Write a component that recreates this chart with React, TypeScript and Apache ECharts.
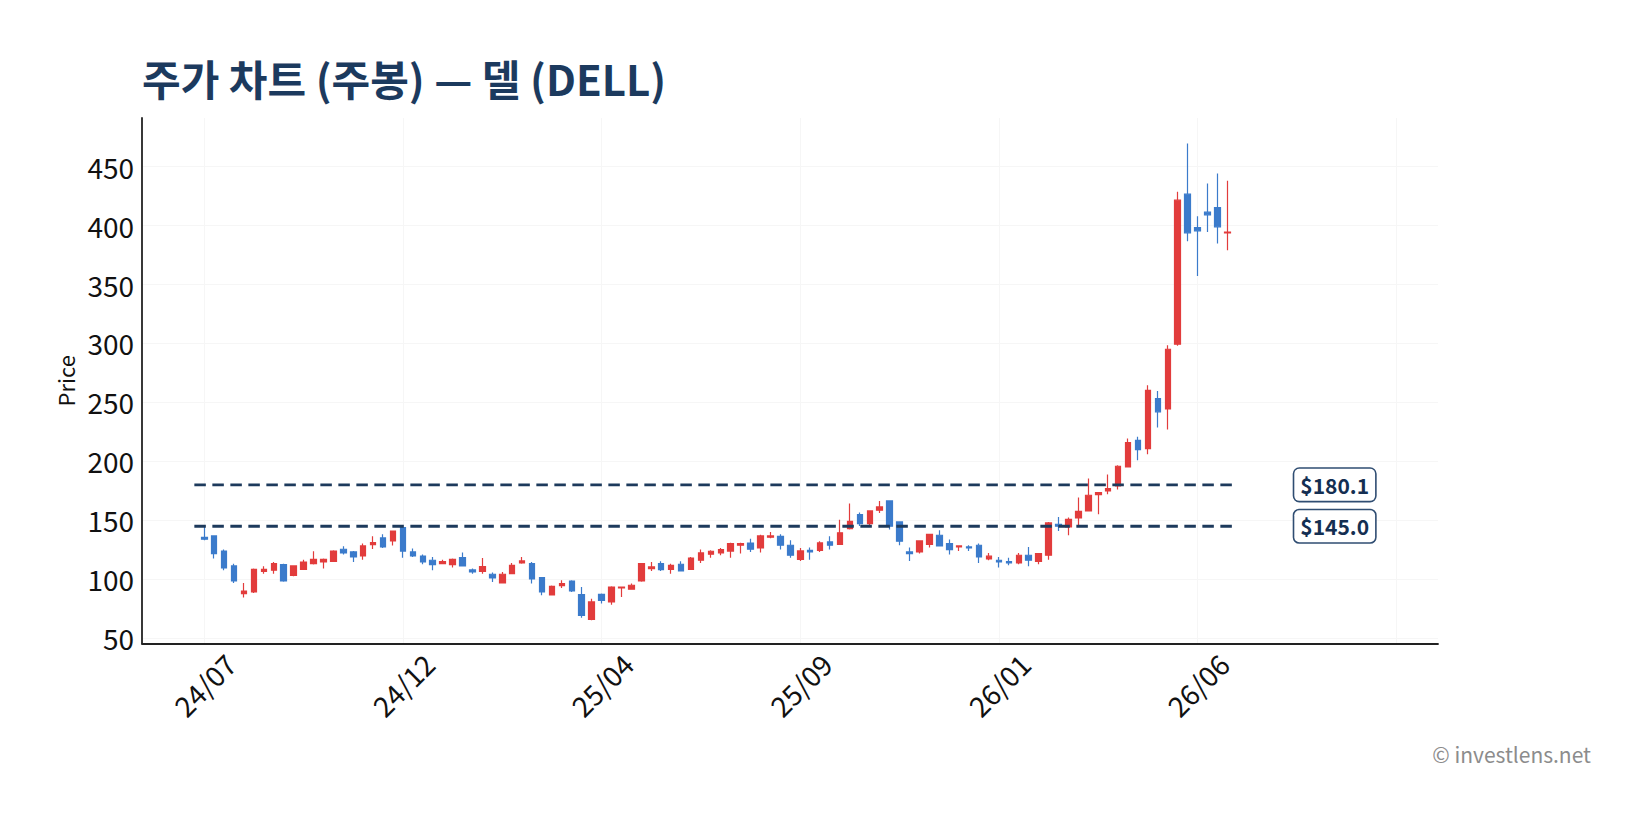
import React, { useEffect, useRef } from "react";
import * as echarts from "echarts";

// ---- data ----
const tickIndices = [0, 20, 40, 60, 80, 100];
const tickLabels = ["24/07", "24/12", "25/04", "25/09", "26/01", "26/06"];
const gridXValues = [0, 20, 40, 60, 80, 100, 120];
const yTicks = [50, 100, 150, 200, 250, 300, 350, 400, 450];

const opens = [
  135.5, 136.8, 124.0, 111.4, 87.9, 89.3, 106.8, 107.7, 112.5, 103.4,
  108.5, 113.3, 114.7, 115.3, 125.5, 123.2, 119.8, 129.4, 135.1, 132.5,
  143.9, 123.2, 119.8, 116.2, 113.3, 112.5, 118.4, 108.0, 106.8, 104.3,
  96.9, 104.8, 113.9, 113.3, 101.5, 86.8, 94.7, 98.6, 87.0, 66.1,
  87.3, 80.8, 92.7, 91.6, 98.6, 109.1, 113.3, 108.5, 112.8, 108.5,
  116.2, 121.3, 122.4, 124.0, 128.9, 130.8, 126.6, 135.7, 136.5, 128.9,
  117.0, 124.6, 124.6, 131.7, 129.7, 143.0, 154.9, 147.3, 158.6, 166.5,
  148.7, 123.2, 123.2, 129.7, 137.4, 130.3, 127.5, 127.5, 128.9, 117.3,
  116.2, 115.0, 113.9, 120.4, 115.3, 120.4, 146.7, 144.4, 152.1, 158.0,
  171.9, 175.0, 179.2, 195.3, 217.9, 210.9, 253.3, 244.5, 299.4, 426.6,
  398.3, 411.3, 415.3, 393.8,
];
const closes = [
  134.0, 121.8, 109.7, 98.6, 90.1, 108.5, 108.5, 113.3, 98.6, 111.4,
  114.7, 117.0, 117.0, 124.0, 122.4, 119.0, 128.3, 131.1, 127.5, 141.0,
  124.0, 119.8, 114.7, 112.5, 115.0, 117.0, 111.4, 106.2, 110.8, 101.2,
  104.3, 111.9, 115.6, 100.3, 89.3, 94.1, 96.4, 90.1, 69.5, 80.8,
  82.2, 93.5, 93.5, 95.0, 113.3, 110.5, 108.2, 111.9, 107.1, 118.1,
  122.4, 123.8, 125.2, 130.3, 130.3, 125.5, 136.8, 136.8, 128.9, 120.4,
  124.1, 123.2, 130.9, 128.9, 139.4, 149.2, 147.3, 158.0, 161.4, 145.0,
  132.3, 121.8, 132.6, 138.2, 128.3, 125.2, 128.3, 126.6, 119.0, 119.6,
  114.7, 113.9, 120.4, 116.2, 121.8, 147.8, 145.0, 150.9, 157.7, 171.3,
  173.6, 177.0, 195.9, 216.0, 210.0, 260.3, 242.0, 295.1, 421.5, 393.8,
  395.5, 409.1, 398.9, 394.4,
];
const lows = [
  133.1, 117.6, 107.7, 96.9, 84.5, 88.4, 104.8, 104.8, 98.0, 102.6,
  108.0, 112.5, 109.1, 115.0, 121.0, 114.7, 116.7, 125.8, 126.6, 128.6,
  118.4, 119.0, 112.8, 107.7, 113.0, 110.0, 111.0, 104.8, 104.8, 97.8,
  96.4, 104.3, 113.3, 96.4, 86.5, 86.2, 92.7, 89.3, 67.5, 65.3,
  79.4, 78.5, 85.1, 91.3, 98.0, 107.1, 107.1, 104.8, 107.0, 108.0,
  113.9, 118.4, 120.4, 118.4, 121.8, 123.2, 122.7, 134.8, 125.2, 118.4,
  115.6, 116.7, 123.2, 125.2, 129.4, 142.2, 145.3, 145.9, 156.3, 142.2,
  128.9, 115.6, 121.8, 126.9, 128.0, 121.0, 124.1, 124.1, 113.9, 116.2,
  110.0, 111.9, 112.8, 111.1, 112.8, 116.7, 141.0, 137.4, 145.8, 158.0,
  155.2, 172.1, 176.1, 195.0, 201.0, 206.1, 228.7, 227.0, 298.0, 386.7,
  357.3, 394.6, 384.7, 379.1,
];
const highs = [
  144.4, 137.0, 125.2, 113.3, 96.9, 109.1, 111.0, 114.7, 113.3, 111.6,
  116.7, 123.8, 117.6, 124.6, 128.0, 124.0, 130.3, 136.5, 138.2, 141.2,
  144.4, 126.1, 121.0, 119.0, 116.7, 117.6, 122.7, 109.1, 118.1, 105.7,
  106.3, 113.9, 119.0, 114.7, 102.0, 94.7, 99.2, 99.2, 93.5, 83.6,
  87.9, 94.1, 93.6, 96.4, 113.9, 114.7, 115.3, 113.3, 115.3, 119.0,
  125.2, 124.6, 126.6, 131.1, 131.1, 134.5, 137.9, 140.2, 138.2, 133.1,
  126.6, 126.9, 132.3, 136.5, 150.6, 164.2, 156.6, 158.6, 166.5, 167.0,
  149.2, 126.9, 133.1, 138.3, 141.6, 133.7, 128.4, 128.9, 130.3, 122.4,
  119.0, 118.4, 122.4, 127.5, 122.4, 148.7, 152.9, 152.4, 169.3, 185.4,
  174.1, 188.8, 196.7, 219.4, 220.8, 264.6, 259.8, 298.5, 428.6, 469.6,
  407.9, 435.6, 444.1, 437.9,
];

const levels = [180.1, 145.0];
const levelLabels = ["$180.1", "$145.0"];
const levelStart = -1;
const levelEnd = 103.5;
const levelLabelX = 113.8;

const FONT = '"Noto Sans CJK KR", "Noto Sans", sans-serif';
const NAVY = "#1c3a5e";
const UP = "#e23c3c";
const DOWN = "#3b7bcb";

export default function App() {
  const ref = useRef<HTMLDivElement>(null);

  useEffect(() => {
    document.body.style.margin = "0";
    if (!ref.current) return;
    const chart = echarts.init(ref.current, null, { renderer: "svg" });

    const candleData = opens.map((o, i) => [i, o, closes[i], lows[i], highs[i]]);

    const levelSeries: any[] = levels.map((lv) => ({
      type: "line",
      data: [
        [levelStart, lv],
        [levelEnd, lv],
      ],
      symbol: "none",
      silent: true,
      z: 3,
      lineStyle: { color: "#1d3a5c", width: 2.8, type: [11.5, 6.5] },
    }));

    const option: any = {
      animation: false,
      backgroundColor: "#ffffff",
      title: {
        text: "주가 차트 (주봉) — 델 (DELL)",
        left: 142,
        top: 56,
        padding: 0,
        textStyle: {
          fontFamily: FONT,
          fontWeight: "bold",
          fontSize: 42,
          color: NAVY,
        },
      },
      grid: { left: 142, top: 118, right: 213, bottom: 184.4, containLabel: false },
      xAxis: {
        type: "value",
        min: -6.27,
        max: 124.2,
        axisLine: { show: true, onZero: false, lineStyle: { color: "#222222", width: 1.8 } },
        axisTick: { show: false, customValues: gridXValues },
        axisLabel: {
          customValues: tickIndices,
          rotate: 45,
          align: "center",
          verticalAlign: "middle",
          margin: 41,
          fontSize: 28,
          fontFamily: FONT,
          color: "#111111",
          formatter: (v: number) => {
            const k = tickIndices.indexOf(Math.round(v));
            return k >= 0 ? tickLabels[k] : "";
          },
        },
        splitLine: { show: true, lineStyle: { color: "#f6f6f6", width: 1 } },
      },
      yAxis: {
        type: "value",
        min: 45.5,
        max: 491.2,
        name: "Price",
        nameLocation: "middle",
        nameRotate: 90,
        nameGap: 61,
        nameTextStyle: { fontFamily: FONT, fontSize: 22, color: "#111111" },
        axisLine: { show: true, onZero: false, lineStyle: { color: "#222222", width: 1.8 } },
        axisTick: { show: false, customValues: yTicks },
        axisLabel: {
          customValues: yTicks,
          margin: 8,
          fontSize: 28,
          fontFamily: FONT,
          color: "#111111",
        },
        splitLine: { show: true, lineStyle: { color: "#f6f6f6", width: 1 } },
      },
      series: [
        {
          type: "candlestick",
          data: candleData,
          barWidth: 6,
          z: 2,
          itemStyle: {
            color: UP,
            color0: DOWN,
            borderColor: UP,
            borderColor0: DOWN,
            borderWidth: 1.2,
          },
        },
        ...levelSeries,
        {
          type: "scatter",
          data: levels.map((lv, i) => [levelLabelX, lv, levelLabels[i]]),
          symbolSize: 1,
          itemStyle: { color: "rgba(0,0,0,0)" },
          silent: true,
          z: 5,
          label: {
            show: true,
            position: "inside",
            formatter: (p: any) => p.value[2],
            fontFamily: FONT,
            fontWeight: "bold",
            fontSize: 21,
            color: "#142f52",
            opacity: 1,
            textBorderWidth: 0,
            textBorderColor: "transparent",
            backgroundColor: "#ffffff",
            borderColor: "#2f4d72",
            borderWidth: 1.6,
            borderRadius: 5,
            padding: [6, 6, 5, 6],
          },
        },
      ],
      graphic: [
        {
          type: "text",
          right: 1651 - 1591,
          top: 743,
          style: {
            text: "© investlens.net",
            fontFamily: FONT,
            fontSize: 21,
            fill: "#8c8c8c",
          },
        },
      ],
    };

    chart.setOption(option);
    return () => chart.dispose();
  }, []);

  return (
    <div
      ref={ref}
      style={{ position: "absolute", left: 0, top: 0, width: 1651, height: 828 }}
    />
  );
}
